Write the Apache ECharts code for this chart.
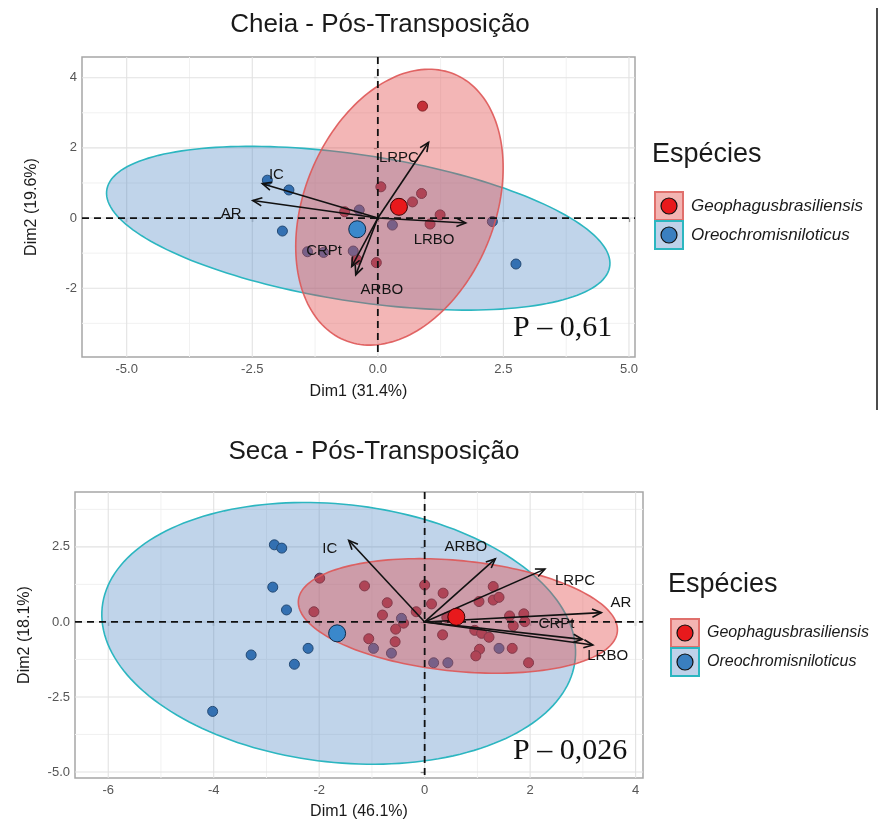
<!DOCTYPE html>
<html><head><meta charset="utf-8">
<script src="https://cdn.jsdelivr.net/npm/echarts@6/dist/echarts.min.js"></script>
<style>html,body{margin:0;padding:0;background:#fff}#c{width:887px;height:825px}</style>
</head><body><div id="c"></div>
<script>
// ---------- DATA: Cheia - Pós-Transposição ----------
const cheiaGeoX = [0.89, 0.06, 0.87, 0.69, 1.24, 1.04, -0.66, -0.42, -0.03];
const cheiaGeoY = [3.19, 0.89, 0.70, 0.46, 0.09, -0.17, 0.18, -1.18, -1.27];
const cheiaOreoX = [-2.20, -1.77, -1.90, -1.40, -1.08, -0.49, -0.37, 0.29, 2.28, 2.75];
const cheiaOreoY = [1.08, 0.80, -0.37, -0.96, -0.98, -0.94, 0.23, -0.20, -0.10, -1.31];
const cheiaCentroidGeo = [0.42, 0.32];
const cheiaCentroidOreo = [-0.41, -0.32];
// ellipse: [centerX, centerY, semiMajor, semiMinor, angleDeg]
const cheiaEllipseGeo = [0.43, 0.31, 3.99, 1.95, 78.75];
const cheiaEllipseOreo = [-0.39, -0.29, 5.13, 2.06, -13.5];
const cheiaVars = ['LRPC', 'IC', 'AR', 'LRBO', 'ARBO', 'CRPt'];
const cheiaVarX = [1.01, -2.30, -2.49, 1.75, -0.44, -0.52];
const cheiaVarY = [2.16, 0.98, 0.50, -0.14, -1.62, -1.38];
const cheiaVarLabelX = [0.42, -2.02, -2.92, 1.12, 0.08, -1.07];
const cheiaVarLabelY = [1.72, 1.22, 0.12, -0.62, -2.05, -0.94];
const cheiaXTicks = [-5, -2.5, 0, 2.5, 5];
const cheiaXMinor = [-3.75, -1.25, 1.25, 3.75];
const cheiaYTicks = [-2, 0, 2, 4];
const cheiaYMinor = [-3, -1, 1, 3];
const cheiaP = 'P \u2013 0,61';

// ---------- DATA: Seca - Pós-Transposição ----------
const secaGeoX = [-1.99, -1.14, -0.71, -0.80, -2.10, -0.55, -1.06, -0.56, -0.40, -0.16, 0.00, 0.35, 0.13, 0.34,
  1.30, 1.03, 1.30, 1.41, 1.61, 1.88, 1.90, 1.68, 0.95, 1.08, 1.22, 1.04, 1.66, 0.97, 1.97, 0.42];
const secaGeoY = [1.46, 1.20, 0.64, 0.23, 0.34, -0.24, -0.56, -0.66, -0.04, 0.34, 1.23, 0.96, 0.60, -0.43,
  1.18, 0.68, 0.73, 0.82, 0.20, 0.27, 0.01, -0.13, -0.28, -0.38, -0.51, -0.91, -0.88, -1.13, -1.36, 0.15];
const secaOreoX = [-2.85, -2.71, -2.88, -2.62, -3.29, -2.21, -2.47, -4.02, -0.44, -0.97, -0.63, 0.17, 0.44, 1.41];
const secaOreoY = [2.57, 2.46, 1.16, 0.40, -1.10, -0.88, -1.41, -2.98, 0.12, -0.88, -1.04, -1.36, -1.36, -0.88];
const secaCentroidGeo = [0.60, 0.17];
const secaCentroidOreo = [-1.66, -0.38];
const secaEllipseGeo = [0.63, 0.20, 3.08, 1.82, -13.4];
const secaEllipseOreo = [-1.63, -0.38, 4.74, 4.09, -39.2];
const secaVars = ['IC', 'ARBO', 'LRPC', 'AR', 'CRPt', 'LRBO'];
const secaVarX = [-1.44, 1.34, 2.28, 3.35, 2.99, 3.19];
const secaVarY = [2.72, 2.10, 1.76, 0.31, -0.58, -0.77];
const secaVarLabelX = [-1.80, 0.78, 2.85, 3.72, 2.50, 3.47];
const secaVarLabelY = [2.42, 2.50, 1.36, 0.63, -0.05, -1.12];
const secaXTicks = [-6, -4, -2, 0, 2, 4];
const secaXMinor = [-5, -3, -1, 1, 3];
const secaYTicks = [-5, -2.5, 0, 2.5];
const secaYMinor = [-3.75, -1.25, 1.25, 3.75];
const secaP = 'P \u2013 0,026';

const species = ['Geophagusbrasiliensis', 'Oreochromisniloticus'];

// ---------- STYLE ----------
const FONT = '"Liberation Sans", Arial, sans-serif';
const RED_PT = '#b3202e', RED_PT_B = '#43080f';
const BLUE_PT = '#2a68aa', BLUE_PT_B = '#132e4d';
const RED_C = '#e8191c', BLUE_C = '#3a88cb';
const BLUE_FILL = 'rgba(70,130,192,0.34)', BLUE_STROKE = '#2cb6c0';
const RED_FILL = 'rgba(226,72,72,0.40)', RED_STROKE = 'rgba(222,86,86,0.9)';

function vLines(gi, vals, color, width, dash, z) {
  return { type: 'custom', xAxisIndex: gi, yAxisIndex: gi, z: z, silent: true,
    data: vals.map(v => [v, 0]),
    renderItem: (p, api) => {
      const cs = p.coordSys; const x = api.coord([api.value(0), 0])[0];
      return { type: 'line', shape: { x1: x, y1: cs.y, x2: x, y2: cs.y + cs.height },
        style: { stroke: color, lineWidth: width, lineDash: dash || null } };
    } };
}
function hLines(gi, vals, color, width, dash, z) {
  return { type: 'custom', xAxisIndex: gi, yAxisIndex: gi, z: z, silent: true,
    data: vals.map(v => [0, v]),
    renderItem: (p, api) => {
      const cs = p.coordSys; const y = api.coord([0, api.value(1)])[1];
      return { type: 'line', shape: { x1: cs.x, y1: y, x2: cs.x + cs.width, y2: y },
        style: { stroke: color, lineWidth: width, lineDash: dash || null } };
    } };
}
function ellipse(gi, prm, fill, stroke, z) {
  return { type: 'custom', xAxisIndex: gi, yAxisIndex: gi, z: z, silent: true,
    data: [prm],
    renderItem: (p, api) => {
      const cx = api.value(0), cy = api.value(1), a = api.value(2), b = api.value(3), ang = api.value(4) * Math.PI / 180;
      const pts = [];
      for (let i = 0; i < 180; i++) {
        const t = i / 180 * 2 * Math.PI, ex = a * Math.cos(t), ey = b * Math.sin(t);
        pts.push(api.coord([cx + ex * Math.cos(ang) - ey * Math.sin(ang), cy + ex * Math.sin(ang) + ey * Math.cos(ang)]));
      }
      return { type: 'polygon', shape: { points: pts }, style: { fill: fill, stroke: stroke, lineWidth: 1.6 } };
    } };
}
function arrows(gi, xs, ys, z) {
  return { type: 'custom', xAxisIndex: gi, yAxisIndex: gi, z: z, silent: true,
    data: xs.map((x, i) => [x, ys[i]]),
    renderItem: (p, api) => {
      const o = api.coord([0, 0]), t = api.coord([api.value(0), api.value(1)]);
      const an = Math.atan2(t[1] - o[1], t[0] - o[0]), L = 10, w = 0.42;
      const h1 = [t[0] - L * Math.cos(an - w), t[1] - L * Math.sin(an - w)];
      const h2 = [t[0] - L * Math.cos(an + w), t[1] - L * Math.sin(an + w)];
      return { type: 'group', children: [
        { type: 'line', shape: { x1: o[0], y1: o[1], x2: t[0], y2: t[1] }, style: { stroke: '#111', lineWidth: 1.6 } },
        { type: 'polyline', shape: { points: [h1, t, h2] }, style: { stroke: '#111', lineWidth: 1.6, fill: null } }
      ] };
    } };
}
function labels(gi, names, xs, ys, z) {
  return { type: 'custom', xAxisIndex: gi, yAxisIndex: gi, z: z, silent: true,
    data: xs.map((x, i) => ({ value: [x, ys[i]], name: names[i] })),
    renderItem: (p, api) => {
      const c = api.coord([api.value(0), api.value(1)]);
      return { type: 'text', x: c[0], y: c[1],
        style: { text: names[p.dataIndex], fill: '#141414', font: '15px ' + FONT, align: 'center', verticalAlign: 'middle' } };
    } };
}
function points(gi, name, xs, ys, color, border, size, z) {
  return { type: 'scatter', name: name, xAxisIndex: gi, yAxisIndex: gi, z: z, silent: true,
    symbolSize: size, data: xs.map((x, i) => [x, ys[i]]),
    itemStyle: { color: color, borderColor: border, borderWidth: 1, opacity: 1 } };
}
function xAx(gi, min, max, ticks, fmt, name, gap) {
  return { type: 'value', gridIndex: gi, min: min, max: max,
    splitLine: { show: false }, axisLine: { show: false },
    axisTick: { show: true, customValues: ticks, length: 4, lineStyle: { color: '#444', width: 1.2 } },
    axisLabel: { customValues: ticks, formatter: fmt, color: '#555', fontSize: 13, fontFamily: FONT, margin: 6 },
    name: name, nameLocation: 'middle', nameGap: gap,
    nameTextStyle: { color: '#1a1a1a', fontSize: 16, fontFamily: FONT } };
}
function yAx(gi, min, max, ticks, fmt, name, gap) {
  return { type: 'value', gridIndex: gi, min: min, max: max,
    splitLine: { show: false }, axisLine: { show: false },
    axisTick: { show: true, customValues: ticks, length: 4, lineStyle: { color: '#444', width: 1.2 } },
    axisLabel: { customValues: ticks, formatter: fmt, color: '#555', fontSize: 13, fontFamily: FONT, margin: 5 },
    name: name, nameLocation: 'middle', nameGap: gap, nameRotate: 90,
    nameTextStyle: { color: '#1a1a1a', fontSize: 16, fontFamily: FONT } };
}
function panelSeries(gi, d) {
  return [
    vLines(gi, d.xMinor, '#f1f1f1', 1, null, 1), hLines(gi, d.yMinor, '#f1f1f1', 1, null, 1),
    vLines(gi, d.xTicks, '#e2e2e2', 1.1, null, 1), hLines(gi, d.yTicks, '#e2e2e2', 1.1, null, 1),
    points(gi, species[0], d.geoX, d.geoY, RED_PT, RED_PT_B, 10, 2),
    points(gi, species[1], d.oreoX, d.oreoY, BLUE_PT, BLUE_PT_B, 10, 2),
    ellipse(gi, d.ellO, BLUE_FILL, BLUE_STROKE, 3),
    ellipse(gi, d.ellG, RED_FILL, RED_STROKE, 4),
    vLines(gi, [0], '#111', 1.8, [7, 5], 5), hLines(gi, [0], '#111', 1.8, [7, 5], 5),
    arrows(gi, d.vx, d.vy, 6),
    labels(gi, d.vars, d.lx, d.ly, 7),
    points(gi, species[0], [d.cG[0]], [d.cG[1]], RED_C, '#3a0000', 17, 8),
    points(gi, species[1], [d.cO[0]], [d.cO[1]], BLUE_C, '#0e2a48', 17, 8)
  ];
}
// legend drawn as graphic: x = left of title, cy = title centre, keyTop = top of first key, fs = label font size
function legend(x, cy, keyTop, fs) {
  const els = [
    { type: 'text', x: x, y: cy, style: { text: 'Espécies', font: '27px ' + FONT, fill: '#1a1a1a', verticalAlign: 'middle' } }
  ];
  const keys = [['#f3b4b2', '#e0706c', RED_C], ['#bfd2ea', BLUE_STROKE, '#3a7fc0']];
  keys.forEach((k, i) => {
    const ky = keyTop + i * 29;
    els.push({ type: 'rect', shape: { x: x + 3, y: ky, width: 28, height: 28 }, style: { fill: k[0], stroke: k[1], lineWidth: 2 } });
    els.push({ type: 'circle', shape: { cx: x + 17, cy: ky + 14, r: 8 }, style: { fill: k[2], stroke: '#111', lineWidth: 1.2 } });
    els.push({ type: 'text', x: x + 39, y: ky + 14, style: { text: species[i], font: 'italic ' + fs + 'px ' + FONT, fill: '#1a1a1a', verticalAlign: 'middle' } });
  });
  return els;
}

const chart = echarts.init(document.getElementById('c'), null, { renderer: 'canvas' });
const f1 = v => v.toFixed(1), f0 = v => String(v);
const option = {
  animation: false,
  backgroundColor: '#fff',
  title: [
    { text: 'Cheia - Pós-Transposição', left: 375, top: 7, textAlign: 'center',
      textStyle: { fontSize: 26, fontWeight: 'normal', color: '#1a1a1a', fontFamily: FONT } },
    { text: 'Seca - Pós-Transposição', left: 369, top: 434, textAlign: 'center',
      textStyle: { fontSize: 26, fontWeight: 'normal', color: '#1a1a1a', fontFamily: FONT } }
  ],
  grid: [
    { left: 82, top: 57, width: 553, height: 300, show: true, borderColor: '#a6a6a6', borderWidth: 1.5, backgroundColor: '#fff' },
    { left: 75, top: 492, width: 568, height: 286, show: true, borderColor: '#a6a6a6', borderWidth: 1.5, backgroundColor: '#fff' }
  ],
  xAxis: [
    xAx(0, -5.89, 5.12, cheiaXTicks, f1, 'Dim1 (31.4%)', 27),
    xAx(1, -6.63, 4.14, secaXTicks, f0, 'Dim1 (46.1%)', 26)
  ],
  yAxis: [
    yAx(0, -3.96, 4.59, cheiaYTicks, f0, 'Dim2 (19.6%)', 42),
    yAx(1, -5.2, 4.33, secaYTicks, f1, 'Dim2 (18.1%)', 42)
  ],
  series: [
    ...panelSeries(0, { xMinor: cheiaXMinor, yMinor: cheiaYMinor, xTicks: cheiaXTicks, yTicks: cheiaYTicks,
      geoX: cheiaGeoX, geoY: cheiaGeoY, oreoX: cheiaOreoX, oreoY: cheiaOreoY, ellO: cheiaEllipseOreo, ellG: cheiaEllipseGeo,
      vx: cheiaVarX, vy: cheiaVarY, vars: cheiaVars, lx: cheiaVarLabelX, ly: cheiaVarLabelY, cG: cheiaCentroidGeo, cO: cheiaCentroidOreo }),
    ...panelSeries(1, { xMinor: secaXMinor, yMinor: secaYMinor, xTicks: secaXTicks, yTicks: secaYTicks,
      geoX: secaGeoX, geoY: secaGeoY, oreoX: secaOreoX, oreoY: secaOreoY, ellO: secaEllipseOreo, ellG: secaEllipseGeo,
      vx: secaVarX, vy: secaVarY, vars: secaVars, lx: secaVarLabelX, ly: secaVarLabelY, cG: secaCentroidGeo, cO: secaCentroidOreo })
  ],
  graphic: [
    ...legend(652, 155, 192, 17),
    ...legend(668, 585, 619, 16),
    { type: 'text', left: 513, top: 313, z: 100, style: { text: cheiaP, font: '30px "Liberation Serif", "Times New Roman", serif', fill: '#111' } },
    { type: 'text', left: 513, top: 736, z: 100, style: { text: secaP, font: '30px "Liberation Serif", "Times New Roman", serif', fill: '#111' } },
    { type: 'line', shape: { x1: 877, y1: 8, x2: 877, y2: 410 }, style: { stroke: '#111', lineWidth: 1.5 } }
  ]
};
chart.setOption(option);
</script></body></html>
